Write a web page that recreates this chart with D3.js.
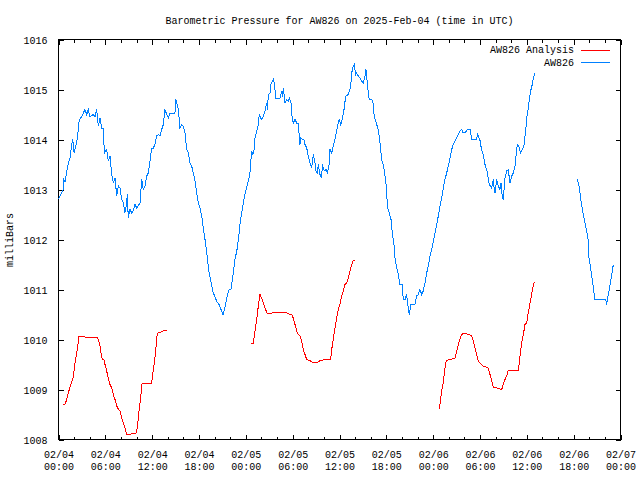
<!DOCTYPE html>
<html>
<head>
<meta charset="utf-8">
<script src="https://cdn.jsdelivr.net/npm/d3@7"></script>
<style>
  html, body { margin: 0; padding: 0; background: #fff; }
  svg text { font-family: "Liberation Mono", "DejaVu Sans Mono", monospace; font-size: 10px; fill: #000; }
</style>
</head>
<body>
<svg id="chart" width="640" height="480"></svg>
<script>
// ---- Data (hours since 2025-02-04 00:00 UTC, pressure in mbar) ----
const chartTitle = "Barometric Pressure for AW826 on 2025-Feb-04 (time in UTC)";
const yLabel = "milliBars";
const seriesNames = ["AW826 Analysis", "AW826"];
const seriesColors = ["#ff0000", "#0080ff"];

const blueHours = [0,0.61,0.62,0.83,1.26,1.47,1.69,1.82,1.99,2.33,2.54,2.66,2.97,3.18,3.39,3.61,3.82,4.04,4.46,4.68,4.89,5.10,5.32,5.53,5.74,5.87,6.17,6.38,6.6,6.82,7.02,7.24,7.46,7.66,7.88,8.1,8.3,8.52,8.74,8.81,8.94,9.16,9.38,9.58,9.8,10.02,10.44,10.66,10.86,11.08,11.3,11.5,11.72,11.94,12.14,12.36,12.58,12.79,13.0,13.22,13.43,13.64,13.86,14.07,14.28,14.92,15.05,15.35,15.56,15.78,15.99,16.21,16.42,16.63,16.85,17.06,17.27,17.49,17.7,17.91,18.13,18.35,18.55,18.77,19.02,19.28,19.54,19.79,20.05,20.31,20.56,20.82,21.08,21.33,21.59,21.85,22.1,22.36,22.61,22.87,23.12,23.32,23.47,23.67,23.89,24.11,24.32,24.53,24.62,24.75,24.91,25.04,25.17,25.39,25.6,25.72,25.9,26.03,26.24,26.45,26.67,26.77,26.88,27.1,27.22,27.39,27.52,27.65,27.73,27.82,28.16,28.38,28.59,28.7,28.8,28.93,29.02,29.24,29.44,29.57,29.79,29.91,30.08,30.3,30.52,30.72,30.81,30.94,31.03,31.16,31.45,31.58,31.8,32.0,32.22,32.44,32.64,32.86,32.99,33.15,33.28,33.5,33.72,33.8,34.05,34.27,34.44,34.65,34.78,35.0,35.2,35.42,35.64,35.84,35.97,36.15,36.36,36.61,36.79,37.13,37.34,37.47,37.56,37.76,37.89,38.07,38.2,38.41,38.62,38.84,39.05,39.26,39.39,39.56,39.69,39.82,40.13,40.29,40.46,40.76,40.97,41.19,41.4,41.61,41.83,42.04,42.12,42.38,42.6,42.76,42.98,43.11,43.33,43.53,43.75,44.04,44.17,44.39,44.6,44.81,44.94,45.16,45.67,45.89,46.09,46.31,46.53,46.73,46.95,47.17,47.37,47.59,47.81,48.02,48.23,48.45,48.66,48.87,49.09,49.3,49.51,49.73,49.94,50.15,50.37,50.58,50.79,51.01,51.22,51.43,51.65,51.86,52.16,52.42,52.72,52.93,53.57,53.68,53.78,54.0,54.08,54.21,54.42,54.64,54.85,55.06,55.19,55.5,55.7,55.83,55.92,56.14,56.34,56.56,56.69,56.78,56.98,57.2,57.42,57.62,57.84,58.06,58.27,58.48,58.61,58.78,58.95,59.21,59.41,59.63,59.76,59.89,59.98,60.19,60.32,60.49,60.7,60.83,61.0,
  66.46,66.68,66.81,66.97,67.23,67.45,67.67,67.87,67.96,68.18,68.31,68.44,68.6,68.73,70.1,70.23,70.36,70.56,70.74,70.91,71.08];
const blueValues = [1012.81,1013.0,1013.23,1013.15,1013.53,1013.63,1013.9,1014.0,1013.74,1013.93,1014.2,1014.4,1014.45,1014.53,1014.6,1014.5,1014.6,1014.45,1014.5,1014.45,1014.6,1014.27,1014.43,1014.23,1014.23,1013.73,1013.8,1013.57,1013.67,1013.3,1013.14,1013.23,1012.87,1013.07,1013.03,1012.8,1012.73,1012.54,1012.73,1012.9,1012.43,1012.6,1012.53,1012.57,1012.7,1012.63,1012.73,1013.2,1013.0,1013.07,1013.27,1013.33,1013.57,1013.83,1013.83,1013.9,1014.07,1014.1,1014.07,1014.2,1014.3,1014.6,1014.5,1014.43,1014.53,1014.53,1014.8,1014.6,1014.23,1014.3,1014.27,1014.13,1013.8,1013.73,1013.53,1013.47,1013.33,1013.17,1012.93,1012.73,1012.63,1012.47,1012.23,1012.0,1011.7,1011.35,1011.15,1010.95,1010.85,1010.75,1010.7,1010.6,1010.5,1010.65,1010.85,1011.0,1011.0,1011.3,1011.6,1011.8,1012.1,1012.4,1012.53,1012.73,1012.9,1013.05,1013.17,1013.33,1013.53,1013.77,1013.7,1013.77,1014.03,1014.17,1014.3,1014.5,1014.43,1014.4,1014.47,1014.57,1014.73,1014.6,1014.9,1014.93,1015.1,1015.17,1015.2,1015.13,1015.0,1014.83,1014.83,1014.83,1014.97,1014.85,1015.03,1014.87,1014.73,1014.8,1014.77,1014.83,1014.73,1014.47,1014.33,1014.4,1014.33,1014.33,1014.13,1013.9,1014.03,1014.01,1014.0,1013.9,1013.83,1013.67,1013.53,1013.43,1013.7,1013.53,1013.37,1013.33,1013.5,1013.3,1013.23,1013.5,1013.37,1013.4,1013.33,1013.47,1013.8,1013.73,1013.87,1014.0,1014.17,1014.33,1014.4,1014.3,1014.4,1014.63,1014.87,1014.9,1015.0,1015.13,1015.33,1015.47,1015.5,1015.3,1015.33,1015.27,1015.23,1015.17,1015.13,1015.27,1015.4,1015.13,1014.93,1014.8,1014.8,1014.73,1014.45,1014.3,1014.2,1013.93,1013.6,1013.5,1013.27,1013.0,1012.67,1012.53,1012.4,1012.13,1011.9,1011.63,1011.43,1011.3,1011.1,1011.1,1010.8,1010.8,1010.9,1010.63,1010.5,1010.7,1010.7,1010.87,1010.9,1011.0,1010.9,1010.97,1011.13,1011.33,1011.47,1011.67,1011.8,1011.97,1012.13,1012.3,1012.47,1012.67,1012.83,1013.03,1013.2,1013.33,1013.47,1013.63,1013.8,1013.9,1013.97,1014.03,1014.1,1014.17,1014.2,1014.13,1014.15,1014.2,1014.21,1014.0,1014.0,1014.1,1014.07,1013.98,1013.9,1013.8,1013.7,1013.5,1013.4,1013.23,1013.1,1013.03,1013.2,1013.0,1012.93,1013.2,1013.07,1013.0,1013.13,1012.93,1012.8,1013.23,1013.37,1013.4,1013.13,1013.27,1013.33,1013.47,1013.67,1013.9,1013.87,1013.73,1013.8,1013.87,1014.07,1014.23,1014.43,1014.63,1014.8,1014.97,1015.1,1015.23,1015.32,
  1013.21,1013.07,1012.93,1012.73,1012.5,1012.33,1012.17,1011.97,1011.63,1011.43,1011.27,1011.13,1010.93,1010.8,1010.8,1010.7,1010.83,1011.0,1011.17,1011.33,1011.5];

const redHours = [0.54,0.83,1.05,1.26,1.56,1.82,1.99,2.15,2.33,2.46,2.63,3.18,3.39,4.89,5.1,5.32,5.44,5.61,5.83,5.96,6.17,6.38,6.6,6.82,7.02,7.24,7.46,7.66,7.88,8.1,8.3,8.52,8.74,9.29,9.38,9.93,10.1,10.22,10.35,10.53,10.66,11.21,11.94,12.07,12.27,12.45,12.58,12.71,13.13,13.43,13.86,
  24.66,24.96,25.04,25.21,25.39,25.6,25.81,26.03,26.24,26.45,26.67,26.75,27.31,27.52,29.02,29.44,29.66,29.87,30.08,30.3,30.52,30.72,30.94,31.16,31.36,31.58,31.8,32.22,32.44,33.28,33.5,34.36,34.87,35.0,35.2,35.42,35.64,35.84,36.06,36.28,36.49,36.7,36.92,37.13,37.34,37.56,37.76,37.98,
  48.78,48.96,49.09,49.3,49.42,49.6,49.73,50.15,50.58,50.79,51.01,51.22,51.43,51.65,51.86,52.29,52.93,53.14,53.36,53.57,53.78,54.0,54.21,54.42,55.06,55.28,55.5,55.7,56.14,56.78,56.98,57.2,57.42,57.62,58.9,59.03,59.12,59.25,59.42,59.63,59.76,59.98,60.11,60.27,60.4,60.53,60.7,60.83,60.96];
const redValues = [1008.7,1008.7,1008.8,1008.93,1009.1,1009.2,1009.37,1009.57,1009.73,1009.87,1010.07,1010.07,1010.05,1010.05,1010.0,1009.87,1009.73,1009.61,1009.59,1009.5,1009.37,1009.23,1009.1,1009.03,1008.9,1008.8,1008.67,1008.61,1008.57,1008.43,1008.33,1008.23,1008.11,1008.11,1008.13,1008.13,1008.23,1008.43,1008.63,1008.83,1009.11,1009.13,1009.13,1009.3,1009.53,1009.77,1010.03,1010.13,1010.15,1010.17,1010.18,
  1009.93,1009.93,1010.03,1010.2,1010.4,1010.67,1010.9,1010.83,1010.73,1010.63,1010.55,1010.52,1010.52,1010.55,1010.55,1010.52,1010.5,1010.5,1010.43,1010.3,1010.17,1010.1,1010.07,1009.97,1009.8,1009.7,1009.6,1009.58,1009.55,1009.55,1009.58,1009.6,1009.6,1009.8,1010.0,1010.23,1010.43,1010.6,1010.7,1010.87,1010.97,1011.1,1011.13,1011.23,1011.37,1011.5,1011.58,1011.58,
  1008.61,1008.8,1008.97,1009.13,1009.33,1009.53,1009.58,1009.6,1009.62,1009.63,1009.77,1009.9,1010.0,1010.1,1010.12,1010.11,1010.08,1009.97,1009.83,1009.7,1009.57,1009.53,1009.5,1009.47,1009.43,1009.3,1009.17,1009.05,1009.03,1009.0,1009.1,1009.2,1009.27,1009.39,1009.39,1009.53,1009.67,1009.83,1010.0,1010.17,1010.3,1010.33,1010.47,1010.6,1010.73,1010.83,1010.97,1011.07,1011.15];

const yTicks = [1008,1009,1010,1011,1012,1013,1014,1015,1016];
const xTickHours = [0,6,12,18,24,30,36,42,48,54,60,66,72];
const xTickDates = ["02/04","02/04","02/04","02/04","02/05","02/05","02/05","02/05","02/06","02/06","02/06","02/06","02/07"];
const xTickTimes = ["00:00","06:00","12:00","18:00","00:00","06:00","12:00","18:00","00:00","06:00","12:00","18:00","00:00"];
const xMinorHours = d3.range(0, 73, 2);

// ---- Layout ----
const L = 58.5, R = 620.5, T = 39.5, B = 439.5;
const svg = d3.select("#chart");
const x = d3.scaleLinear().domain([0, 72]).range([L, R]);
const y = d3.scaleLinear().domain([1008, 1016]).range([B, T]);

// ticks (inward), bottom + top
const minorOnly = xMinorHours.filter(h => h % 6 !== 0);
const gx = svg.append("g");
function hTicks(sel, hours, len) {
  sel.selectAll(null).data(hours).enter().append("line")
    .attr("x1", d => Math.round(x(d)) + 0.5).attr("x2", d => Math.round(x(d)) + 0.5)
    .attr("y1", B).attr("y2", B - len).attr("stroke", "#000").attr("shape-rendering", "crispEdges");
  sel.selectAll(null).data(hours).enter().append("line")
    .attr("x1", d => Math.round(x(d)) + 0.5).attr("x2", d => Math.round(x(d)) + 0.5)
    .attr("y1", T).attr("y2", T + len).attr("stroke", "#000").attr("shape-rendering", "crispEdges");
}
hTicks(gx, xTickHours, 5);
hTicks(gx, minorOnly, 3);

// bottom axis labels via d3 axis (labels only)
const xAxis = d3.axisBottom(x).tickValues(xTickHours).tickSize(0).tickPadding(0).tickFormat(() => "");
const xa = svg.append("g").attr("transform", `translate(0,${B})`).call(xAxis);
xa.select(".domain").remove();
xa.selectAll(".tick text").remove();
xa.selectAll(".tick").each(function(d, i) {
  const t = d3.select(this).append("text").attr("text-anchor", "middle").attr("fill", "#000");
  t.append("tspan").attr("x", 0).attr("y", 18).text(xTickDates[i]);
  t.append("tspan").attr("x", 0).attr("y", 30.5).text(xTickTimes[i]);
});

// y axis: left ticks + labels, right ticks
const yAxisL = d3.axisLeft(y).tickValues(yTicks).tickSize(-5).tickPadding(11).tickFormat(d3.format("d"));
const ya = svg.append("g").attr("transform", `translate(${L},0)`).call(yAxisL);
ya.select(".domain").remove();
ya.selectAll(".tick line").attr("stroke", "#000").attr("shape-rendering", "crispEdges");
ya.selectAll(".tick text").attr("dy", "0.35em").attr("font-family", null).attr("font-size", null).attr("fill", "#000");
const yAxisR = d3.axisRight(y).tickValues(yTicks).tickSize(-5).tickFormat("");
const yr = svg.append("g").attr("transform", `translate(${R},0)`).call(yAxisR);
yr.select(".domain").remove();
yr.selectAll(".tick line").attr("stroke", "#000").attr("shape-rendering", "crispEdges");

// frame
svg.append("rect").attr("x", L).attr("y", T).attr("width", R - L).attr("height", B - T)
  .attr("fill", "none").attr("stroke", "#000").attr("shape-rendering", "crispEdges");

// series -> segments split at gaps
function segments(hours, values) {
  const segs = []; let cur = [];
  hours.forEach((h, i) => {
    if (cur.length && h - hours[i - 1] > 3) { segs.push(cur); cur = []; }
    cur.push([h, values[i]]);
  });
  if (cur.length) segs.push(cur);
  return segs;
}
const line = d3.line().x(d => x(d[0])).y(d => y(d[1]));
const plot = svg.append("g");
[[redHours, redValues, seriesColors[0]], [blueHours, blueValues, seriesColors[1]]].forEach(([h, v, c]) => {
  plot.selectAll(null).data(segments(h, v)).enter().append("path")
    .attr("d", line).attr("fill", "none").attr("stroke", c).attr("stroke-width", 1)
    .attr("shape-rendering", "crispEdges");
});

// legend
const legend = svg.append("g");
seriesNames.forEach((name, i) => {
  const ly = 49.5 + i * 12.5;
  legend.append("text").attr("x", 574).attr("y", ly + 3.5).attr("text-anchor", "end").text(name);
  legend.append("line").attr("x1", 581).attr("x2", 610).attr("y1", Math.round(ly) + 0.5).attr("y2", Math.round(ly) + 0.5)
    .attr("stroke", seriesColors[i]).attr("shape-rendering", "crispEdges");
});

// title and y label
svg.append("text").attr("x", (L + R) / 2).attr("y", 23.5).attr("text-anchor", "middle").text(chartTitle);
svg.append("text").attr("transform", "translate(13,240) rotate(-90)").attr("text-anchor", "middle").text(yLabel);
</script>
</body>
</html>
